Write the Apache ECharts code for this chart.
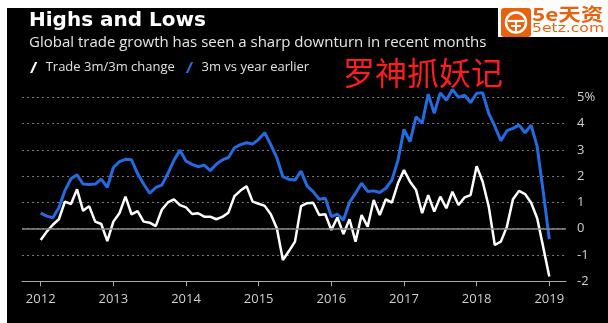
<!DOCTYPE html>
<html><head><meta charset="utf-8">
<script src="https://cdn.jsdelivr.net/npm/echarts@6/dist/echarts.min.js"></script>
<style>html,body{margin:0;padding:0;background:#000}#c{width:608px;height:323px}</style>
</head><body><div id="c"></div><script>
// Monthly values, Jan 2012 .. Jan 2019 (85 months)
const startYear = 2012;
const tickYears = [2012, 2013, 2014, 2015, 2016, 2017, 2018, 2019];
const seriesNames = ['Trade 3m/3m change', '3m vs year earlier'];
const tradeChange = [
  -0.43,-0.11,0.15,0.36,1.03,0.94,1.50,0.68,0.86,0.27,0.18,-0.47,
  0.27,0.59,1.22,0.55,0.67,0.27,0.23,0.10,0.72,1.00,1.12,0.90,
  0.81,0.56,0.59,0.46,0.46,0.36,0.45,0.61,1.24,1.45,1.62,1.03,
  0.95,0.87,0.55,0.02,-1.19,-0.85,-0.49,0.86,0.97,0.99,0.52,0.55,
  -0.05,0.43,-0.20,0.36,-0.49,0.52,0.08,1.09,0.52,1.12,0.99,1.73,
  2.23,1.79,1.47,0.59,1.28,0.65,1.22,0.78,1.41,0.90,1.19,1.28,
  2.38,1.79,0.84,-0.62,-0.49,0.08,1.12,1.44,1.32,0.99,0.40,-0.70,
  -1.82
];
const yoyChange = [
  0.59,0.48,0.42,0.80,1.45,1.90,2.05,1.70,1.68,1.70,1.89,1.57,
  2.33,2.55,2.64,2.62,2.10,1.70,1.35,1.57,1.66,2.10,2.60,2.99,
  2.57,2.45,2.36,2.42,2.21,2.45,2.62,2.71,3.08,3.20,3.27,3.22,
  3.40,3.65,3.20,2.70,1.98,1.88,1.85,2.19,1.62,1.41,1.12,1.16,
  0.46,0.55,0.33,1.00,1.35,1.73,1.42,1.44,1.38,1.54,1.85,2.60,
  3.78,3.31,4.26,4.01,5.12,4.39,5.17,4.89,5.30,5.00,5.08,4.80,
  5.15,5.17,4.39,3.90,3.35,3.73,3.82,3.94,3.65,3.94,3.12,1.40,
  -0.40
];
const yTicks = [-2, -1, 0, 1, 2, 3, 4, 5];

const toPairs = arr => arr.map((v, i) => [i, v]);
const tickMonths = tickYears.map(y => (y - startYear) * 12);
const FONT = "'Open Sans', sans-serif";

const chart = echarts.init(document.getElementById('c'), null, {renderer: 'canvas'});
chart.setOption({
  animation: false,
  backgroundColor: '#000',
  title: [
    {text: 'Highs and Lows', left: 24, top: 6,
     textStyle: {color: '#fff', fontSize: 20, fontWeight: 'bold', fontFamily: "'DejaVu Sans', sans-serif"}},
    {text: 'Global trade growth has seen a sharp downturn in recent months', left: 24, top: 30,
     textStyle: {color: '#e6e6e6', fontSize: 15, fontWeight: 'normal', fontFamily: FONT}}
  ],
  legend: {
    left: 25, top: 56, itemWidth: 8, itemHeight: 11, itemGap: 11,
    icon: 'path://M0,12 L2.5,12 L8,0 L5.5,0 Z',
    textStyle: {color: '#e0e0e0', fontSize: 13, fontFamily: FONT, padding: [0, 0, 0, 3]},
    data: seriesNames
  },
  grid: {left: 22, right: 42, top: 97.3, bottom: 41.7, containLabel: false},
  xAxis: {
    type: 'value', min: -3.09, max: 86.76,
    axisLine: {show: true, onZero: false, lineStyle: {color: '#aaa', width: 1}},
    axisTick: {show: true, length: 5, lineStyle: {color: '#aaa'}, customValues: tickMonths},
    axisLabel: {color: '#cfcfcf', fontSize: 13, fontFamily: FONT, margin: 11,
      customValues: tickMonths, formatter: v => String(startYear + Math.round(v / 12))},
    splitLine: {show: false}
  },
  yAxis: {
    type: 'value', position: 'right', min: -2, max: 5, interval: 1,
    axisLine: {show: false}, axisTick: {show: false},
    axisLabel: {color: '#cfcfcf', fontSize: 13, fontFamily: FONT, margin: 11,
      formatter: v => v === yTicks[yTicks.length - 1] ? v + '%' : String(v)},
    splitLine: {show: true, lineStyle: {color: '#777', type: [2, 3], width: 1}}
  },
  series: [
    {name: seriesNames[0], type: 'line', data: toPairs(tradeChange), symbol: 'none', clip: false,
     lineStyle: {color: '#ffffff', width: 2.5}, itemStyle: {color: '#ffffff'}, z: 3,
     markLine: {silent: true, symbol: 'none', label: {show: false},
       lineStyle: {color: '#8a8a8a', type: 'solid', width: 1.5}, data: [{yAxis: 0}]}},
    {name: seriesNames[1], type: 'line', data: toPairs(yoyChange), symbol: 'none', clip: false,
     lineStyle: {color: '#236be0', width: 3}, itemStyle: {color: '#236be0'}, z: 2}
  ],
  graphic: [
    {type: 'rect', shape: {x: 0, y: 0, width: 7, height: 323}, style: {fill: '#fff'}, z: 100},
    {type: 'rect', shape: {x: 0, y: 0, width: 608, height: 8}, style: {fill: '#fff'}, z: 100},
    {type: 'rect', shape: {x: 498, y: 0, width: 110, height: 37}, style: {fill: '#fff'}, z: 100},
    {type: 'rect', shape: {x: 501, y: 8, width: 30, height: 29, r: 3}, style: {fill: '#e8620e'}, z: 101},
    {type: 'circle', shape: {cx: 516, cy: 22.5, r: 10}, style: {fill: 'none', stroke: '#fff', lineWidth: 2.5}, z: 102},
    {type: 'line', shape: {x1: 508, y1: 21, x2: 524, y2: 21}, style: {stroke: '#fff', lineWidth: 2.2}, z: 102},
    {type: 'line', shape: {x1: 511, y1: 26, x2: 521, y2: 26}, style: {stroke: '#fff', lineWidth: 2}, z: 102},
    {type: 'line', shape: {x1: 516, y1: 21, x2: 516, y2: 31}, style: {stroke: '#fff', lineWidth: 2}, z: 102},
    {type: 'text', x: 532, y: 5, scaleX: 1.25, style: {text: '5e天资', fill: '#e8620e', fontSize: 18, fontWeight: 'bold', fontFamily: 'Noto Sans CJK SC'}, z: 102},
    {type: 'text', x: 532, y: 22, scaleX: 1.2, style: {text: '5etz.com', fill: '#e8620e', fontSize: 13, fontFamily: 'DejaVu Sans'}, z: 102},
    {type: 'text', x: 343, y: 57, style: {text: '罗神抓妖记', fill: '#ff1c1c', fontSize: 32, fontFamily: 'Noto Sans CJK SC'}, z: 102}
  ]
});
</script></body></html>
